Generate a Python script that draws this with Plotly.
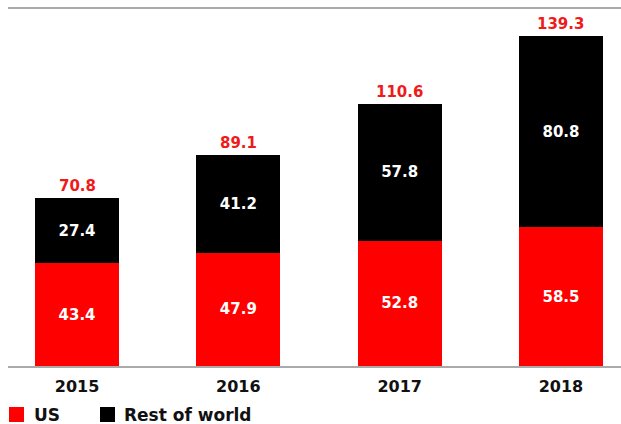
import plotly.graph_objects as go

years = ["2015", "2016", "2017", "2018"]
us = [43.4, 47.9, 52.8, 58.5]
rest = [27.4, 41.2, 57.8, 80.8]
totals = [70.8, 89.1, 110.6, 139.3]
series_names = ["US", "Rest of world"]
series_colors = ["#ff0000", "#000000"]

FONT = "DejaVu Sans, Verdana, sans-serif"

# plot area in pixels (for placing the custom legend)
L, R, T, B = 8, 0, 9, 58
W, H = 621, 424
PW, PH = W - L - R, H - T - B

def px_x(p):
    return (p - L) / PW

def px_y(p):
    return (H - B - p) / PH

fig = go.Figure()
for name, vals, col in zip(series_names, [us, rest], series_colors):
    fig.add_trace(go.Bar(
        x=years, y=vals, name=name, marker=dict(color=col, line=dict(width=0)),
        text=[f"{v:.1f}" for v in vals], textposition="inside", insidetextanchor="middle",
        textfont=dict(color="white", size=15, family=FONT, weight="bold"),
        showlegend=False, hoverinfo="skip",
    ))

for i, tot in enumerate(totals):
    fig.add_annotation(x=i, y=tot, text=f"{tot:.1f}", showarrow=False,
                       xanchor="center", yanchor="bottom", yshift=1,
                       font=dict(color="#f01a1a", size=15, family=FONT, weight="bold"))

# custom legend (squares + labels)
leg_items = [(9, 32), (100, 122)]
for (sx, tx), name, col in zip(leg_items, series_names, series_colors):
    fig.add_shape(type="rect", xref="paper", yref="paper",
                  x0=px_x(sx), x1=px_x(sx + 15), y0=px_y(422), y1=px_y(407),
                  fillcolor=col, line=dict(width=0))
    fig.add_annotation(xref="paper", yref="paper", x=px_x(tx), y=px_y(415),
                       xanchor="left", yanchor="middle", showarrow=False, text=name,
                       font=dict(size=17, family=FONT, weight="bold", color="#111111"))

fig.update_layout(
    width=W, height=H,
    margin=dict(l=L, r=R, t=T, b=B, autoexpand=False),
    barmode="stack", bargap=0.48,
    plot_bgcolor="white", paper_bgcolor="white",
    font=dict(family=FONT, size=14, color="black"),
    showlegend=False,
    xaxis=dict(
        type="category",
        range=[-0.428, 3.372], showline=True, linecolor="#aaaaaa", linewidth=2,
        mirror=True, ticks="outside", ticklen=5, tickcolor="rgba(0,0,0,0)",
        showgrid=False, automargin=False,
        tickfont=dict(size=16, family=FONT, weight="bold", color="#111111"),
    ),
    yaxis=dict(range=[0, 150.7], visible=False, showgrid=False, automargin=False),
)

fig.write_html("out.html")
